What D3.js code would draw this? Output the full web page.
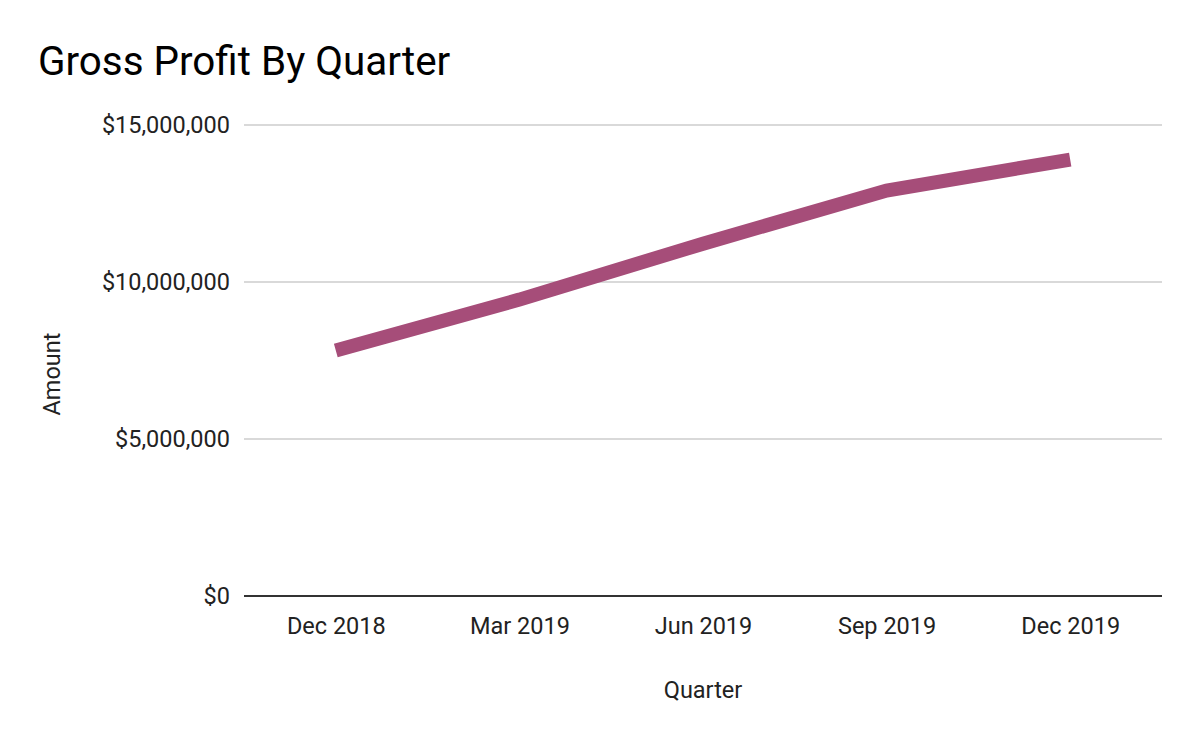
<!DOCTYPE html>
<html>
<head>
<meta charset="utf-8">
<script src="https://cdn.jsdelivr.net/npm/d3@7"></script>
<style>
  body { margin: 0; background: #fff; }
  svg { font-family: Roboto, sans-serif; }
</style>
</head>
<body>
<svg width="1200" height="742"></svg>
<script>
const quarters = ['Dec 2018', 'Mar 2019', 'Jun 2019', 'Sep 2019', 'Dec 2019'];
const grossProfit = [7820000, 9440000, 11220000, 12910000, 13900000];
const yTicks = [0, 5000000, 10000000, 15000000];

const svg = d3.select('svg');
const margin = {top: 125, left: 244, right: 38, bottom: 146};
const w = 1200, h = 742;

const x = d3.scalePoint()
  .domain(quarters)
  .range([margin.left, w - margin.right])
  .padding(0.5);
const y = d3.scaleLinear()
  .domain([0, 15000000])
  .range([h - margin.bottom, margin.top]);

const fmt = d => '$' + d3.format(',')(d);

// gridlines
svg.append('g')
  .selectAll('line')
  .data(yTicks.filter(d => d > 0))
  .enter().append('line')
  .attr('x1', margin.left)
  .attr('x2', w - margin.right)
  .attr('y1', d => y(d))
  .attr('y2', d => y(d))
  .attr('stroke', '#cccccc')
  .attr('stroke-width', 1.5);

// y labels
const yAxis = d3.axisLeft(y).tickValues(yTicks).tickFormat(fmt).tickSize(0).tickPadding(14);
svg.append('g')
  .attr('transform', 'translate(' + margin.left + ',0)')
  .call(yAxis)
  .call(g => g.select('.domain').remove())
  .selectAll('text')
  .attr('font-size', 23.5)
  .attr('font-family', 'Roboto')
  .attr('fill', '#222');

// x axis
const xAxis = d3.axisBottom(x).tickSize(0).tickPadding(21);
svg.append('g')
  .attr('transform', 'translate(0,' + (h - margin.bottom) + ')')
  .call(xAxis)
  .call(g => g.select('.domain').remove())
  .selectAll('text')
  .attr('font-size', 23.5)
  .attr('font-family', 'Roboto')
  .attr('fill', '#222');

svg.append('line')
  .attr('x1', margin.left)
  .attr('x2', w - margin.right)
  .attr('y1', y(0))
  .attr('y2', y(0))
  .attr('stroke', '#333')
  .attr('stroke-width', 2);

// the line
const line = d3.line()
  .x((d, i) => x(quarters[i]))
  .y(d => y(d));
svg.append('path')
  .datum(grossProfit)
  .attr('d', line)
  .attr('fill', 'none')
  .attr('stroke', '#a64d79')
  .attr('stroke-width', 14);

// titles
svg.append('text')
  .attr('x', 38)
  .attr('y', 75)
  .attr('font-size', 40.4)
  .attr('fill', '#000')
  .text('Gross Profit By Quarter');

svg.append('text')
  .attr('x', (margin.left + w - margin.right) / 2)
  .attr('y', 698)
  .attr('text-anchor', 'middle')
  .attr('font-size', 23.5)
  .attr('fill', '#222')
  .text('Quarter');

svg.append('text')
  .attr('transform', 'translate(60,' + 374 + ') rotate(-90)')
  .attr('text-anchor', 'middle')
  .attr('font-size', 23.5)
  .attr('fill', '#222')
  .text('Amount');
</script>
</body>
</html>
